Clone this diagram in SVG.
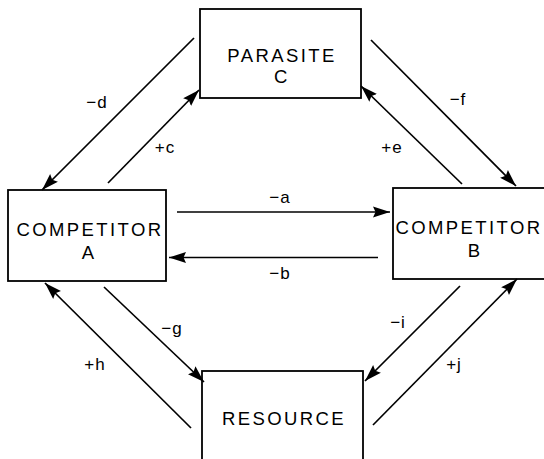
<svg xmlns="http://www.w3.org/2000/svg" width="544" height="459" viewBox="0 0 544 459">
  <style>
    .box { fill: #fff; stroke: #000; stroke-width: 1.8; }
    .name { font-family: "Liberation Sans", Arial, sans-serif; font-size: 18.5px; letter-spacing: 2.4px; text-anchor: middle; fill: #000; }
    .edge { stroke: #000; stroke-width: 1.7; fill: none; marker-end: url(#head); }
    .lbl { font-family: "Liberation Sans", Arial, sans-serif; font-size: 17px; letter-spacing: 1px; text-anchor: middle; fill: #000; }
  </style>
  <defs>
    <marker id="head" markerUnits="userSpaceOnUse" markerWidth="18" markerHeight="12" viewBox="0 0 18 12" refX="17" refY="6" orient="auto">
      <path d="M0,0.5 L17,6 L0,11.5 L2.5,6 z" fill="#000"/>
    </marker>
  </defs>
  <rect width="544" height="459" fill="#fff"/>

  <g id="parasite-c">
    <rect class="box" x="200" y="9" width="161" height="89"/>
    <text class="name" x="282" y="62">PARASITE</text>
    <text class="name" x="282" y="83">C</text>
  </g>

  <g id="competitor-a">
    <rect class="box" x="8" y="190" width="158" height="91"/>
    <text class="name" x="90" y="236">COMPETITOR</text>
    <text class="name" x="89" y="259">A</text>
  </g>

  <g id="competitor-b">
    <rect class="box" x="393" y="188" width="165" height="91"/>
    <text class="name" x="469" y="234">COMPETITOR</text>
    <text class="name" x="475" y="257">B</text>
  </g>

  <g id="resource">
    <rect class="box" x="202" y="371" width="161" height="100"/>
    <text class="name" x="284" y="425">RESOURCE</text>
  </g>

  <g id="connectors">
    <line class="edge" x1="177" y1="212" x2="390" y2="212"/>
    <line class="edge" x1="378" y1="257.5" x2="169" y2="257.5"/>
    <line class="edge" x1="194" y1="38" x2="42" y2="190"/>
    <line class="edge" x1="108" y1="183" x2="199" y2="90"/>
    <line class="edge" x1="371" y1="40" x2="516" y2="186"/>
    <line class="edge" x1="462" y1="184" x2="361" y2="86"/>
    <line class="edge" x1="104" y1="287" x2="204" y2="382"/>
    <line class="edge" x1="191" y1="428" x2="45" y2="283"/>
    <line class="edge" x1="460" y1="286" x2="365" y2="381"/>
    <line class="edge" x1="373" y1="425" x2="517" y2="279"/>

    <text class="lbl" x="280" y="203">−a</text>
    <text class="lbl" x="280" y="279">−b</text>
    <text class="lbl" x="165" y="153">+c</text>
    <text class="lbl" x="97" y="108">−d</text>
    <text class="lbl" x="392" y="153">+e</text>
    <text class="lbl" x="458" y="105">−f</text>
    <text class="lbl" x="172" y="334">−g</text>
    <text class="lbl" x="95" y="370">+h</text>
    <text class="lbl" x="398" y="328">−i</text>
    <text class="lbl" x="454" y="370">+j</text>
  </g>
</svg>
